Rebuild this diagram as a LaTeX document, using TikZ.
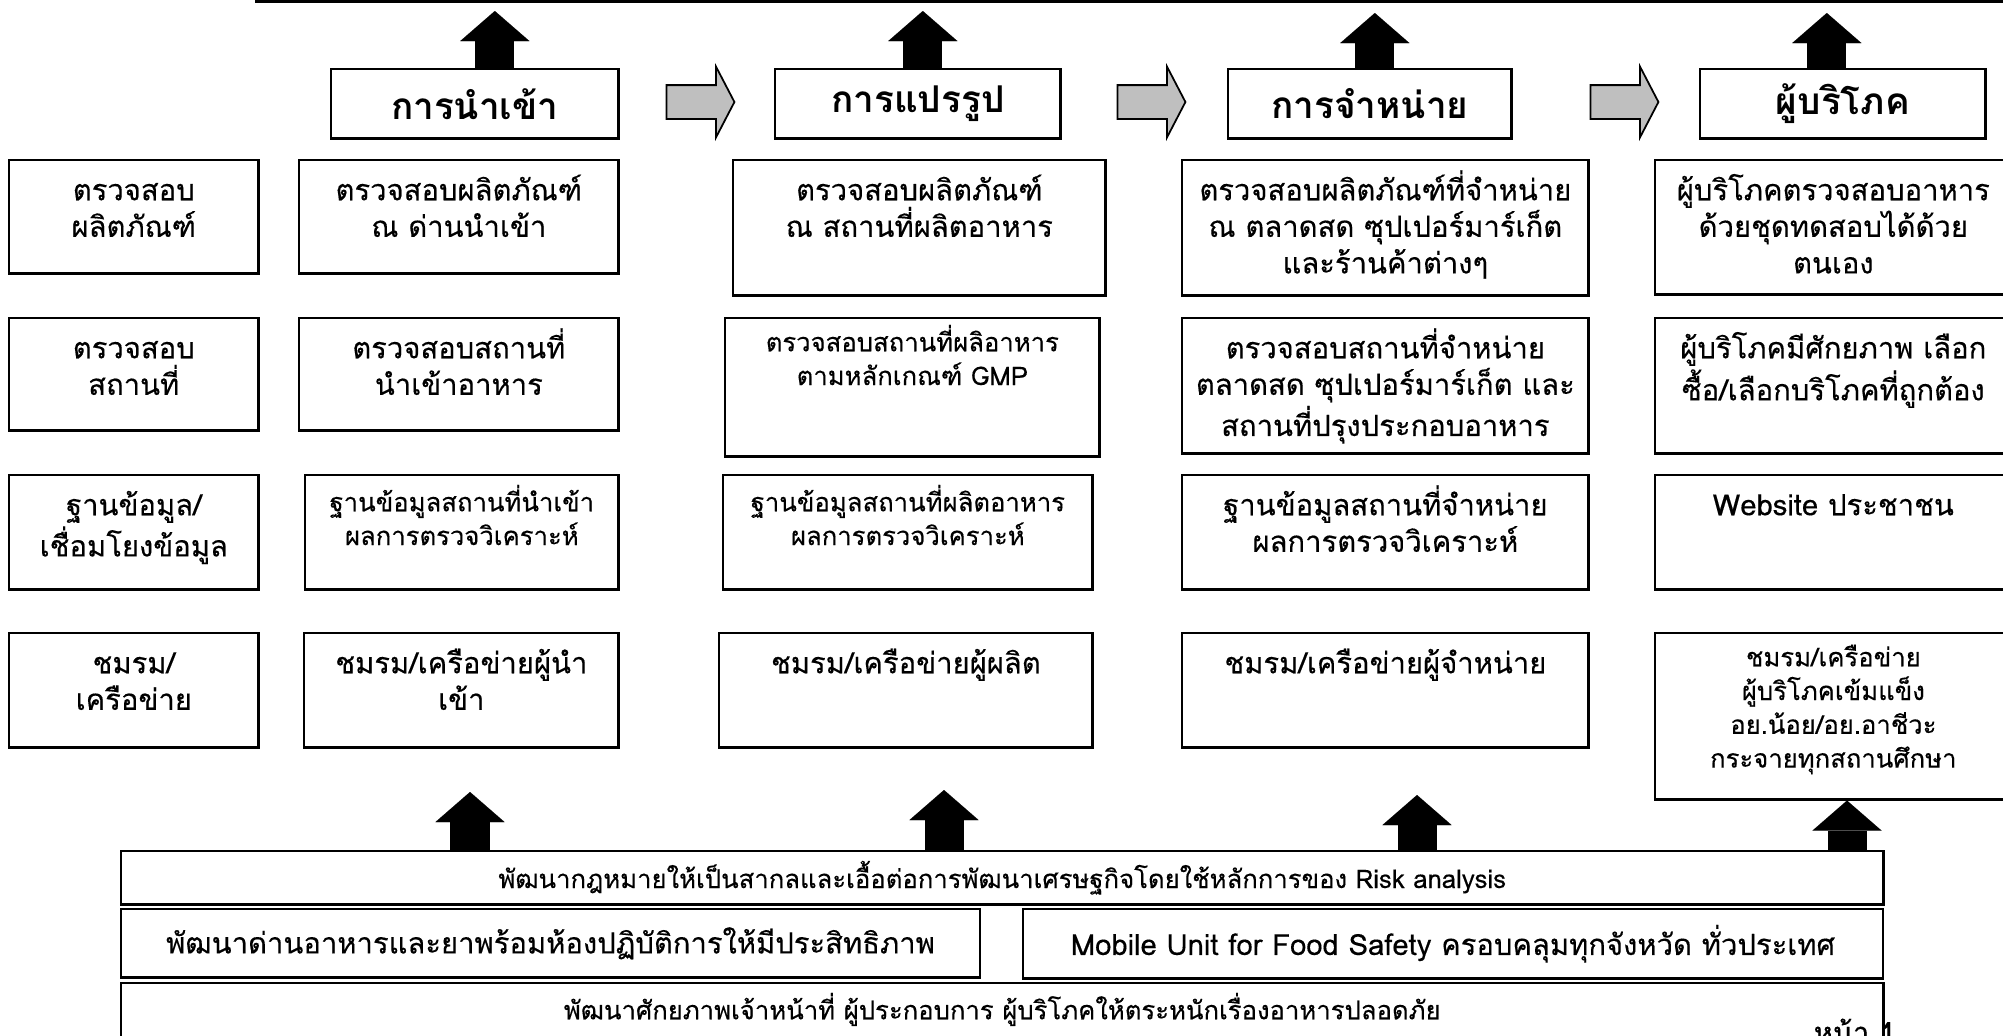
\documentclass[tikz,border=0pt]{standalone}
\usepackage{fontspec}
\setmainfont[Script=Thai]{Loma}
\newfontfamily\thaitext[Script=Thai, FakeBold=0.3]{Loma}
\usetikzlibrary{arrows.meta, shapes.arrows, positioning, calc}

% text block hanging from the top of a cell
\newcommand{\cbox}[4][0.40cm]{\parbox[c][#3][t]{#2}{\centering\rule{0pt}{#1}#4\par}}

\tikzset{
  cell/.style={draw, line width=0.7pt, inner sep=0pt, anchor=north west,
               font=\thaitext\fontsize{8.3}{10.4}\selectfont},
  smalltxt/.style={font=\thaitext\fontsize{7.3}{9.6}\selectfont},
  head/.style={draw, line width=0.7pt, inner sep=0pt, anchor=north west,
               font=\fontsize{10.5}{12}\selectfont\bfseries},
  bar/.style={draw, line width=0.7pt, inner sep=0pt, anchor=north west,
              font=\thaitext\fontsize{8.3}{10.4}\selectfont},
  bigarrow/.style={line width=0.39cm,
                   -{Triangle[length=0.30cm, width=0.69cm, line width=0.01pt]}},
  grayarrow/.style={single arrow, draw, line width=0.5pt, fill=gray!50,
                    minimum height=0.68cm, minimum width=0pt,
                    inner xsep=0pt, inner ysep=0.16cm,
                    single arrow head extend=0.185cm, single arrow tip angle=125},
}

\begin{document}
\begin{tikzpicture}[x=0.01cm, y=-0.01cm]
  \useasboundingbox (0,0) rectangle (2003,1035);
  \fill[white] (0,0) rectangle (2003,1035);

  % line along the top
  \coordinate (tl) at (255,1.5);
  \coordinate (tr) at (2003,1.5);
  \draw[line width=0.8pt] (tl) -- (tr);

  % chain headings
  \node[head, minimum width=2.87cm, minimum height=0.69cm] (hd1) at (330,68) {การนำเข้า};
  \node[head, minimum width=2.85cm, minimum height=0.69cm] (hd2) at (774,68) {การแปรรูป};
  \node[head, minimum width=2.83cm, minimum height=0.69cm] (hd3) at (1227,68) {การจำหน่าย};
  \node[head, minimum width=2.85cm, minimum height=0.69cm] (hd4) at (1699,68) {ผู้บริโภค};

  \node[grayarrow] (ga1) at (696,102) {};
  \node[grayarrow] (ga2) at (1147,102) {};
  \node[grayarrow] (ga3) at (1620,102) {};

  \draw[bigarrow] ([xshift=0.2cm]hd1.north) -- ++(0,-57);
  \draw[bigarrow] ([xshift=0.05cm]hd2.north) -- ++(0,-57);
  \draw[bigarrow] ([xshift=0.05cm]hd3.north) -- ++(0,-55);
  \draw[bigarrow] ([xshift=-0.16cm]hd4.north) -- ++(0,-55);

  % row 1
  \node[cell] (r1c0) at (8,159) {\cbox{2.49cm}{1.13cm}{ตรวจสอบ\\ผลิตภัณฑ์}};
  \node[cell] (r1c1) at (298,159) {\cbox{3.19cm}{1.13cm}{ตรวจสอบผลิตภัณฑ์\\ณ ด่านนำเข้า}};
  \node[cell] (r1c2) at (732,159) {\cbox{3.72cm}{1.35cm}{ตรวจสอบผลิตภัณฑ์\\ณ สถานที่ผลิตอาหาร}};
  \node[cell] (r1c3) at (1181,159) {\cbox{4.06cm}{1.35cm}{ตรวจสอบผลิตภัณฑ์ที่จำหน่าย\\ณ ตลาดสด ซุปเปอร์มาร์เก็ต\\และร้านค้าต่างๆ}};
  \node[cell] (r1c4) at (1654,159) {\cbox{3.56cm}{1.34cm}{ผู้บริโภคตรวจสอบอาหาร\\ด้วยชุดทดสอบได้ด้วย\\ตนเอง}};

  % row 2
  \node[cell] (r2c0) at (8,317) {\cbox{2.49cm}{1.12cm}{ตรวจสอบ\\สถานที่}};
  \node[cell] (r2c1) at (298,317) {\cbox{3.19cm}{1.12cm}{ตรวจสอบสถานที่\\นำเข้าอาหาร}};
  \node[cell, smalltxt] (r2c2) at (724,317) {\cbox[0.33cm]{3.74cm}{1.38cm}{ตรวจสอบสถานที่ผลิอาหาร\\ตามหลักเกณฑ์ GMP}};
  \node[cell] (r2c3) at (1181,317) {\cbox{4.06cm}{1.35cm}{ตรวจสอบสถานที่จำหน่าย\\ตลาดสด ซุปเปอร์มาร์เก็ต และ\\สถานที่ปรุงประกอบอาหาร}};
  \node[cell] (r2c4) at (1654,317) {\cbox{3.56cm}{1.35cm}{ผู้บริโภคมีศักยภาพ เลือก\\ซื้อ/เลือกบริโภคที่ถูกต้อง}};

  % row 3
  \node[cell] (r3c0) at (8,474) {\cbox{2.49cm}{1.14cm}{ฐานข้อมูล/\\เชื่อมโยงข้อมูล}};
  \node[cell, smalltxt] (r3c1) at (304,474) {\cbox[0.36cm]{3.13cm}{1.14cm}{ฐานข้อมูลสถานที่นำเข้า\\ผลการตรวจวิเคราะห์}};
  \node[cell, smalltxt] (r3c2) at (722,474) {\cbox[0.36cm]{3.69cm}{1.14cm}{ฐานข้อมูลสถานที่ผลิตอาหาร\\ผลการตรวจวิเคราะห์}};
  \node[cell] (r3c3) at (1181,474) {\cbox{4.06cm}{1.14cm}{ฐานข้อมูลสถานที่จำหน่าย\\ผลการตรวจวิเคราะห์}};
  \node[cell] (r3c4) at (1654,474) {\cbox{3.56cm}{1.14cm}{Website ประชาชน}};

  % row 4
  \node[cell] (r4c0) at (8,632) {\cbox{2.49cm}{1.14cm}{ชมรม/\\เครือข่าย}};
  \node[cell] (r4c1) at (303,632) {\cbox{3.14cm}{1.14cm}{ชมรม/เครือข่ายผู้นำ\\เข้า}};
  \node[cell] (r4c2) at (718,632) {\cbox{3.73cm}{1.14cm}{ชมรม/เครือข่ายผู้ผลิต}};
  \node[cell] (r4c3) at (1181,632) {\cbox{4.06cm}{1.14cm}{ชมรม/เครือข่ายผู้จำหน่าย}};
  \node[cell, smalltxt] (r4c4) at (1654,632) {\cbox[0.33cm]{3.56cm}{1.66cm}{ชมรม/เครือข่าย\\ผู้บริโภคเข้มแข็ง\\อย.น้อย/อย.อาชีวะ\\กระจายทุกสถานศึกษา}};

  % foundation bars
  \node[bar, smalltxt, minimum width=17.61cm, minimum height=0.53cm] (b1) at (120,850)
    {พัฒนากฎหมายให้เป็นสากลและเอื้อต่อการพัฒนาเศรษฐกิจโดยใช้หลักการของ Risk analysis};
  \node[bar, minimum width=8.58cm, minimum height=0.68cm] (b2a) at (120,908)
    {พัฒนาด่านอาหารและยาพร้อมห้องปฏิบัติการให้มีประสิทธิภาพ};
  \node[bar, minimum width=8.59cm, minimum height=0.69cm] (b2b) at (1022,908)
    {Mobile Unit for Food Safety ครอบคลุมทุกจังหวัด ทั่วประเทศ};
  \node[cell, smalltxt] (b3) at (120,982)
    {\cbox[0.36cm]{17.61cm}{0.80cm}{พัฒนาศักยภาพเจ้าหน้าที่ ผู้ประกอบการ ผู้บริโภคให้ตระหนักเรื่องอาหารปลอดภัย}};
  \node[anchor=base west, inner sep=0pt, font=\thaitext\fontsize{8.3}{10}\selectfont] (pg) at (1813,1043) {หน้า 1};

  \draw[bigarrow] (470,0 |- b1.north) -- ++(0,-58);
  \draw[bigarrow] (944,0 |- b1.north) -- ++(0,-60);
  \draw[bigarrow] (1417,0 |- b1.north) -- ++(0,-55);
  \draw[bigarrow] (1847,0 |- b1.north) -- (1847,0 |- r4c4.south);
\end{tikzpicture}
\end{document}
